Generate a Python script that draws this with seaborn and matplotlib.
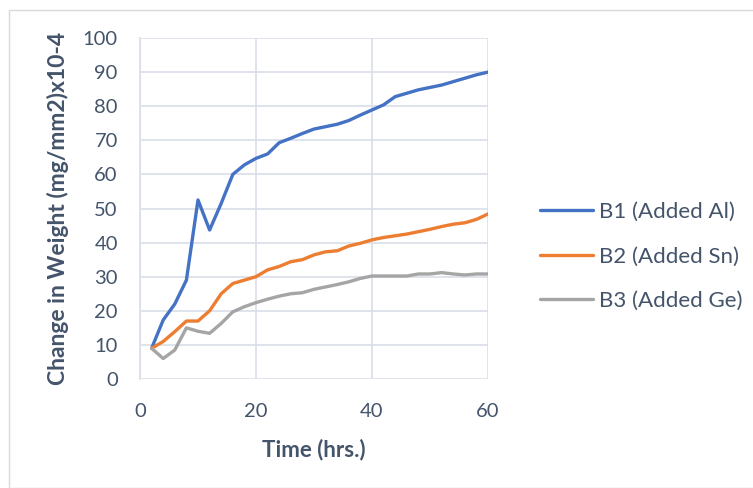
import matplotlib
matplotlib.use("Agg")
import matplotlib.pyplot as plt
from matplotlib.patches import Rectangle
import seaborn as sns
import pandas as pd

# Sampling times (hrs.)
time_hrs = [2, 4, 6, 8, 10, 12, 14, 16, 18, 20, 22, 24, 26, 28, 30,
            32, 34, 36, 38, 40, 42, 44, 46, 48, 50, 52, 54, 56, 58, 60]

# Change in weight (mg/mm2) x10-4 for each alloy
b1_al = [9.0, 17.3, 22.0, 29.0, 52.5, 43.7, 51.5, 60.0, 62.8, 64.7, 66.0, 69.3, 70.6, 72.0, 73.3,
         74.0, 74.7, 75.8, 77.4, 78.9, 80.4, 82.8, 83.8, 84.8, 85.5, 86.2, 87.2, 88.2, 89.2, 90.0]
b2_sn = [9.0, 11.0, 13.9, 17.0, 17.0, 20.0, 25.0, 28.0, 29.0, 30.0, 32.0, 33.0, 34.4, 35.0, 36.4,
         37.3, 37.6, 39.0, 39.8, 40.8, 41.5, 42.0, 42.5, 43.2, 43.9, 44.7, 45.4, 45.8, 46.8, 48.4]
b3_ge = [9.0, 6.0, 8.5, 15.0, 14.0, 13.4, 16.3, 19.7, 21.2, 22.4, 23.4, 24.3, 25.0, 25.3, 26.3,
         27.0, 27.7, 28.5, 29.5, 30.2, 30.2, 30.2, 30.2, 30.8, 30.8, 31.2, 30.8, 30.5, 30.8, 30.8]

series_names = ["B1 (Added Al)", "B2 (Added Sn)", "B3 (Added Ge)"]
series_colors = ["#4472C4", "#ED7D31", "#A5A5A5"]

frames = []
for name, vals in zip(series_names, [b1_al, b2_sn, b3_ge]):
    frames.append(pd.DataFrame({"Time": time_hrs, "Change": vals, "Series": name}))
df = pd.concat(frames, ignore_index=True)

sns.set_theme(style="white")
plt.rcParams["font.family"] = ["Lato", "DejaVu Sans"]

W, H = 753, 488
fig = plt.figure(figsize=(W / 100, H / 100), dpi=100)
ax = fig.add_axes([140 / W, 1 - 379 / H, (488 - 140) / W, (379 - 38) / H])

sns.lineplot(data=df, x="Time", y="Change", hue="Series", palette=series_colors,
             hue_order=series_names, linewidth=2.4, ax=ax, legend=False,
             solid_joinstyle="round", solid_capstyle="round")

ax.set_xlim(0, 60)
ax.set_ylim(0, 100)
ax.set_xticks([0, 20, 40, 60])
ax.set_yticks(range(0, 101, 10))
grid_color = "#D9DEE8"
ax.grid(True, color=grid_color, linewidth=1.2)
ax.set_axisbelow(True)
for side in ["top", "right", "bottom"]:
    ax.spines[side].set_visible(False)
ax.spines["left"].set_color(grid_color)
ax.spines["left"].set_linewidth(1.2)

text_color = "#44546A"
ax.tick_params(axis="both", length=0, labelsize=14.5, labelcolor=text_color)
ax.tick_params(axis="x", pad=17)
ax.tick_params(axis="y", pad=16)

ax.set_xlabel("Time (hrs.)", fontsize=16, fontweight="bold", color=text_color, labelpad=14)
ax.set_ylabel("Change in Weight (mg/mm2)x10-4", fontsize=16.5, fontweight="bold",
              color=text_color, labelpad=10)

handles = [plt.Line2D([], [], color=c, linewidth=2.4) for c in series_colors]
fig.legend(handles, series_names, loc="upper left", bbox_to_anchor=(520 / W, 1 - 182 / H),
           frameon=False, handlelength=2.4, handletextpad=0.25,
           labelspacing=1.1, labelcolor=text_color, prop={"size": 16})

fig.patches.append(Rectangle((9 / W, 0), 1, 1 - 10 / H, transform=fig.transFigure,
                             fill=False, edgecolor="#D9D9D9", linewidth=1))

fig.savefig("out.png", dpi=100, facecolor="white")
